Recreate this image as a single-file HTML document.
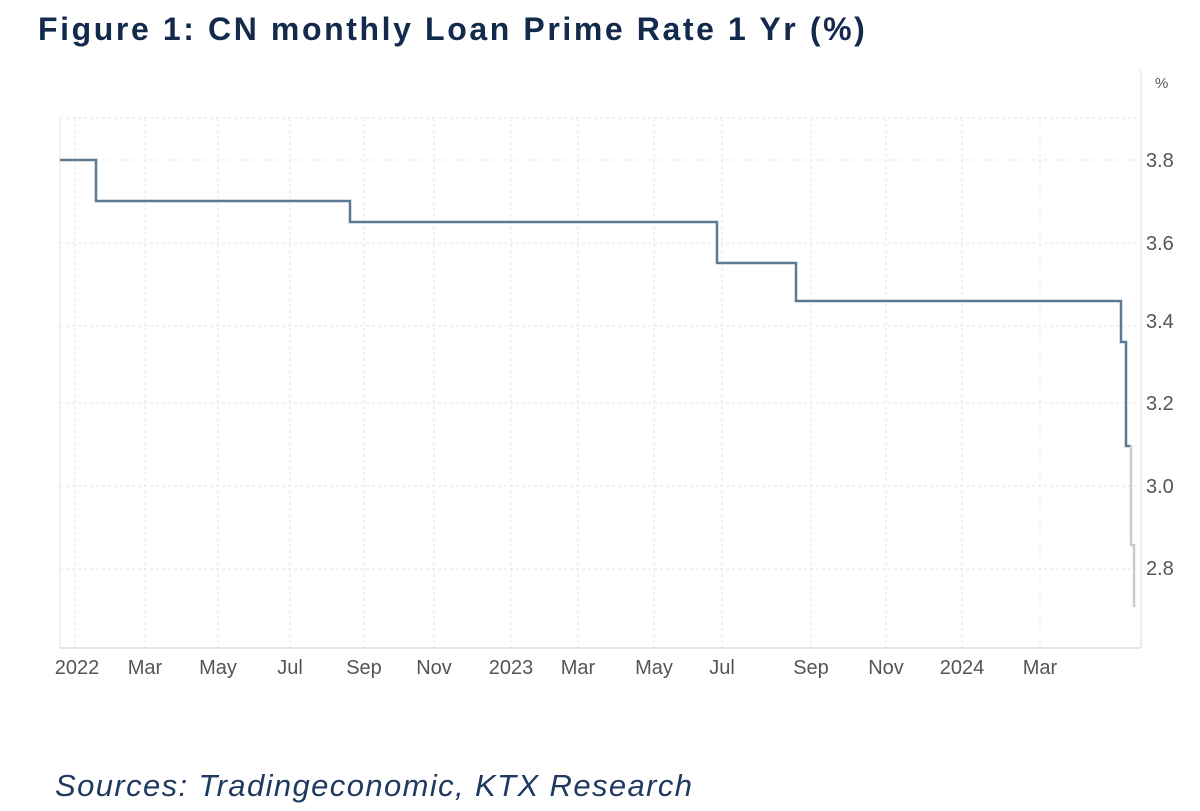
<!DOCTYPE html>
<html><head><style>
body{margin:0;width:1200px;height:811px;background:#fff;overflow:hidden;position:relative;font-family:"Liberation Sans",sans-serif}
.t{position:absolute;left:38px;top:11px;font-size:32px;font-weight:bold;color:#132a4c;letter-spacing:2.6px}
.s{position:absolute;left:55px;top:768px;font-size:31px;font-style:italic;color:#1f3a60;letter-spacing:1.4px}
</style></head><body>
<div class="t">Figure 1: CN monthly Loan Prime Rate 1 Yr (%)</div>
<svg width="1200" height="811" style="position:absolute;left:0;top:0">
<g stroke="#e6e6e6" stroke-dasharray="3,3" stroke-width="1">
<line x1="60" x2="1140" y1="118" y2="118"/><line x1="60" x2="1140" y1="160" y2="160"/><line x1="60" x2="1140" y1="243" y2="243"/><line x1="60" x2="1140" y1="326" y2="326"/><line x1="60" x2="1140" y1="403" y2="403"/><line x1="60" x2="1140" y1="486" y2="486"/><line x1="60" x2="1140" y1="569" y2="569"/>
<line x1="75" x2="75" y1="118" y2="648"/><line x1="145" x2="145" y1="118" y2="648"/><line x1="218" x2="218" y1="118" y2="648"/><line x1="290" x2="290" y1="118" y2="648"/><line x1="364" x2="364" y1="118" y2="648"/><line x1="434" x2="434" y1="118" y2="648"/><line x1="511" x2="511" y1="118" y2="648"/><line x1="578" x2="578" y1="118" y2="648"/><line x1="654" x2="654" y1="118" y2="648"/><line x1="722" x2="722" y1="118" y2="648"/><line x1="811" x2="811" y1="118" y2="648"/><line x1="886" x2="886" y1="118" y2="648"/><line x1="962" x2="962" y1="118" y2="648"/><line x1="1040" x2="1040" y1="118" y2="648"/>
</g>
<line x1="60" x2="60" y1="118" y2="648" stroke="#e4e4e4"/>
<line x1="60" x2="1141" y1="648" y2="648" stroke="#ccc"/>
<line x1="1141" x2="1141" y1="70" y2="648" stroke="#ddd"/>
<polyline fill="none" stroke="#5d7a95" stroke-width="2.5" points="60,160 96,160 96,201 350,201 350,222 717,222 717,263 796,263 796,301 1121,301 1121,342 1126,342 1126,446 1130,446"/>
<polyline fill="none" stroke="#ccc" stroke-width="2.5" points="1130,446 1131,446 1131,545 1134,545 1134,607"/>
<g font-size="20" fill="#555" font-family="Liberation Sans Narrow, Liberation Sans, sans-serif">
<text x="1146" y="167">3.8</text><text x="1146" y="250">3.6</text><text x="1146" y="328">3.4</text><text x="1146" y="410">3.2</text><text x="1146" y="493">3.0</text><text x="1146" y="575">2.8</text>
<text x="1155" y="88" font-size="15">%</text>
<g text-anchor="middle"><text x="77" y="674">2022</text><text x="145" y="674">Mar</text><text x="218" y="674">May</text><text x="290" y="674">Jul</text><text x="364" y="674">Sep</text><text x="434" y="674">Nov</text><text x="511" y="674">2023</text><text x="578" y="674">Mar</text><text x="654" y="674">May</text><text x="722" y="674">Jul</text><text x="811" y="674">Sep</text><text x="886" y="674">Nov</text><text x="962" y="674">2024</text><text x="1040" y="674">Mar</text></g>
</g>
</svg>
<div class="s">Sources: Tradingeconomic, KTX Research</div>
</body></html>
